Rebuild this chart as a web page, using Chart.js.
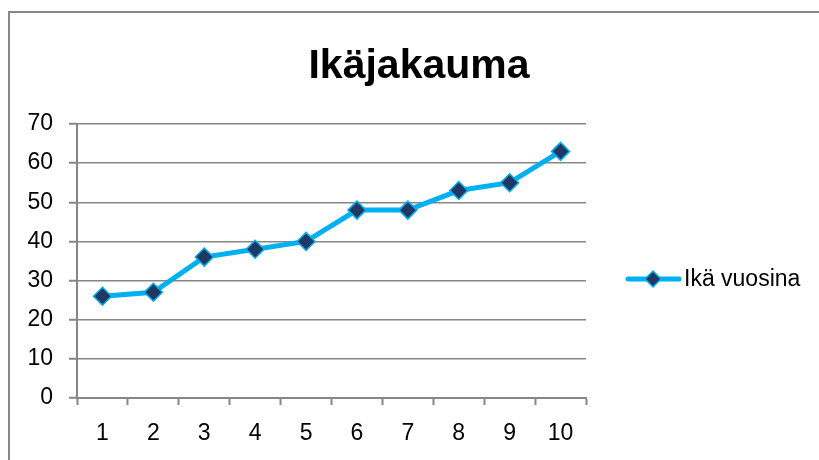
<!DOCTYPE html>
<html>
<head>
<meta charset="utf-8">
<script src="https://cdn.jsdelivr.net/npm/chart.js@4/dist/chart.umd.min.js"></script>
<style>
    html, body { margin: 0; padding: 0; background: #fff; }
    #wrap { position: relative; width: 819px; height: 460px; }
</style>
</head>
<body>
<div id="wrap"><canvas id="chart" width="819" height="460"></canvas></div>
<script>
"use strict";

const chartTitle = "Ikäjakauma";
const seriesName = "Ikä vuosina";
const categories = ["1", "2", "3", "4", "5", "6", "7", "8", "9", "10"];
const ages = [26, 27, 36, 38, 40, 48, 48, 53, 55, 63];
const yTicks = [0, 10, 20, 30, 40, 50, 60, 70];

const FONT = "'Liberation Sans', Arial, sans-serif";
const LINE_BLUE = "#00b0f0";
const MARKER_FILL = "#1f3864";
const AXIS_GREY = "#868686";

// frame, title and legend in Excel style
const excelDecor = {
    id: "excelDecor",
    beforeDraw(chart) {
        const ctx = chart.ctx;
        ctx.save();
        ctx.fillStyle = "#fff";
        ctx.fillRect(0, 0, chart.width, chart.height);
        ctx.strokeStyle = AXIS_GREY;
        ctx.lineWidth = 2;
        ctx.strokeRect(9, 12, chart.width + 10, chart.height + 10);
        ctx.restore();
    },
    afterDraw(chart) {
        const ctx = chart.ctx;
        ctx.save();
        ctx.fillStyle = "#000";
        ctx.font = "bold 41px " + FONT;
        ctx.textAlign = "center";
        ctx.textBaseline = "alphabetic";
        ctx.fillText(chartTitle, 419, 78);

        // legend entry: line + diamond + label
        const ly = 279;
        ctx.strokeStyle = LINE_BLUE;
        ctx.lineWidth = 5;
        ctx.lineCap = "round";
        ctx.beginPath();
        ctx.moveTo(628, ly);
        ctx.lineTo(679, ly);
        ctx.stroke();
        drawDiamond(ctx, 653, ly, 8);
        ctx.fillStyle = "#000";
        ctx.font = "23px " + FONT;
        ctx.textAlign = "left";
        ctx.textBaseline = "middle";
        ctx.fillText(seriesName, 684, ly + 1);
        ctx.restore();
    }
};

function drawDiamond(ctx, x, y, r) {
    ctx.beginPath();
    ctx.moveTo(x, y - r);
    ctx.lineTo(x + r, y);
    ctx.lineTo(x, y + r);
    ctx.lineTo(x - r, y);
    ctx.closePath();
    ctx.fillStyle = MARKER_FILL;
    ctx.fill();
    ctx.strokeStyle = LINE_BLUE;
    ctx.lineWidth = 1.5;
    ctx.stroke();
}

const ctx = document.getElementById("chart").getContext("2d");

new Chart(ctx, {
    type: "line",
    data: {
        labels: categories,
        datasets: [{
            label: seriesName,
            data: ages,
            borderColor: LINE_BLUE,
            borderWidth: 5,
            tension: 0,
            pointStyle: "rectRot",
            pointRadius: 9,
            pointBackgroundColor: MARKER_FILL,
            pointBorderColor: LINE_BLUE,
            pointBorderWidth: 1.5,
            fill: false
        }]
    },
    options: {
        responsive: false,
        animation: false,
        events: [],
        layout: { padding: { left: 10, right: 233, top: 124, bottom: 0 } },
        plugins: {
            legend: { display: false },
            title: { display: false },
            tooltip: { enabled: false }
        },
        scales: {
            x: {
                type: "category",
                offset: true,
                grid: {
                    offset: true,
                    drawOnChartArea: false,
                    drawTicks: true,
                    tickLength: 7,
                    tickWidth: 2,
                    color: AXIS_GREY
                },
                border: { color: AXIS_GREY, width: 2 },
                ticks: {
                    color: "#000",
                    font: { family: FONT, size: 23 },
                    padding: 15,
                    maxRotation: 0,
                    autoSkip: false
                },
                afterFit(scale) { scale.height = 62; }
            },
            y: {
                min: 0,
                max: 70,
                afterBuildTicks(scale) {
                    scale.ticks = yTicks.map(v => ({ value: v }));
                },
                grid: {
                    color: AXIS_GREY,
                    lineWidth: 1.5,
                    drawTicks: true,
                    tickLength: 8,
                    tickWidth: 2
                },
                border: { color: AXIS_GREY, width: 2 },
                ticks: {
                    color: "#000",
                    font: { family: FONT, size: 23 },
                    padding: 16
                },
                afterFit(scale) { scale.width = 67; }
            }
        }
    },
    plugins: [excelDecor]
});
</script>
</body>
</html>
